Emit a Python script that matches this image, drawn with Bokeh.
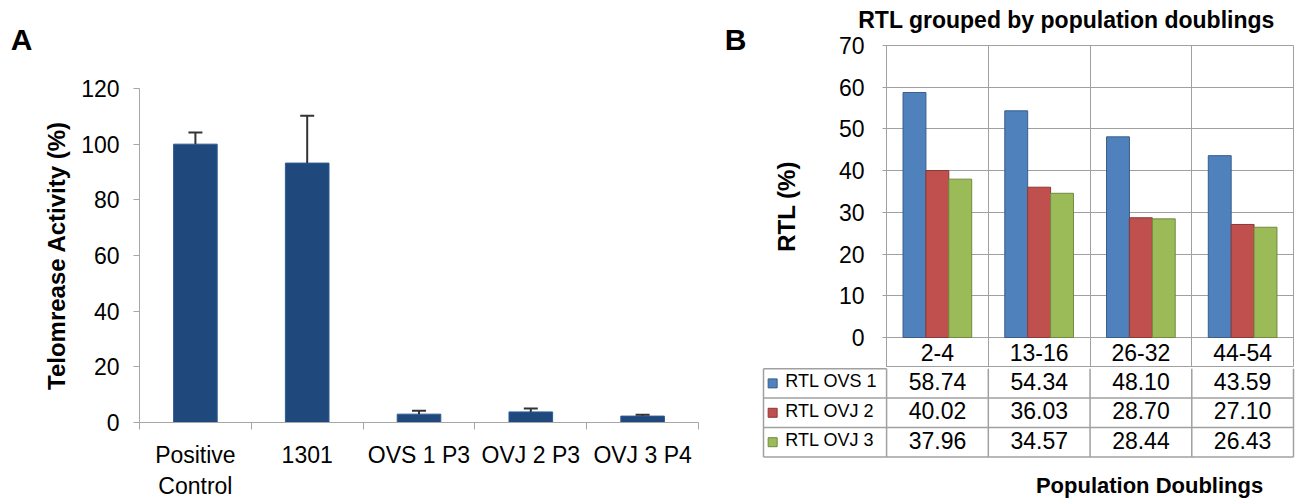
import numpy as np
from bokeh.plotting import figure
from bokeh.models import Range1d, FixedTicker, Whisker, TeeHead, ColumnDataSource
from bokeh.layouts import row, column
from bokeh.embed import file_html
from bokeh.resources import INLINE
from bokeh.core.properties import value

FONT = "Liberation Sans"

# ---------------- data: panel A ----------------
a_categories = ["Positive\nControl", "1301", "OVS 1 P3", "OVJ 2 P3", "OVJ 3 P4"]
a_values = [100.0, 93.2, 3.0, 3.8, 2.3]
a_errors = [4.2, 17.0, 1.2, 1.2, 0.5]
a_yticks = [0, 20, 40, 60, 80, 100, 120]

# ---------------- data: panel B ----------------
b_categories = ["2-4", "13-16", "26-32", "44-54"]
b_series = ["RTL OVS 1", "RTL OVJ 2", "RTL OVJ 3"]
rtl_ovs1 = [58.74, 54.34, 48.10, 43.59]
rtl_ovj2 = [40.02, 36.03, 28.70, 27.10]
rtl_ovj3 = [37.96, 34.57, 28.44, 26.43]
b_yticks = [0, 10, 20, 30, 40, 50, 60, 70]

GRID = "#a0a0a0"
AXIS = "#a6a6a6"


def blank(width, height, xr, yr):
    f = figure(width=width, height=height, x_range=Range1d(*xr), y_range=Range1d(*yr),
               output_backend="svg", toolbar_location=None,
               min_border_left=0, min_border_right=0, min_border_top=0, min_border_bottom=0)
    f.axis.visible = False
    f.grid.visible = False
    f.outline_line_color = None
    return f


def letter(txt, xpos):
    f = blank(40, 501, (0, 40), (0, 501))
    f.text(x=[xpos], y=[462], text=[txt], text_font=value(FONT), text_font_style="bold",
           text_font_size="30px", text_align="center", text_baseline="middle", text_color="black")
    return f


# ================= Panel A =================
n = len(a_categories)
xa = list(range(1, n + 1))
pa = figure(width=680, height=501, x_range=Range1d(0.5, n + 0.5), y_range=Range1d(0, 120),
            output_backend="svg", toolbar_location=None,
            min_border_left=95, min_border_right=22, min_border_top=88, min_border_bottom=73)
pa.outline_line_color = None
pa.grid.visible = False

src_a = ColumnDataSource(dict(x=xa, top=a_values,
                              upper=[v + e for v, e in zip(a_values, a_errors)]))
pa.add_layout(Whisker(base="x", lower="top", upper="upper", source=src_a,
                      line_color="#333333", line_width=2,
                      upper_head=TeeHead(size=14, line_color="#333333", line_width=2),
                      lower_head=None, level="overlay"))
pa.vbar(x="x", top="top", bottom=0, width=0.39, source=src_a,
        fill_color="#1F497D", line_color="#2d5b94", line_width=1)

ya = pa.yaxis[0]
ya.ticker = FixedTicker(ticks=a_yticks, minor_ticks=[])
ya.major_label_text_font = FONT
ya.major_label_text_font_size = "23px"
ya.major_label_text_color = "black"
ya.axis_line_color = AXIS
ya.major_tick_line_color = AXIS
ya.major_tick_out = 6
ya.major_tick_in = 0
ya.minor_tick_line_color = None
ya.major_label_standoff = 14
ya.axis_label = "Telomrease Activity (%)"
ya.axis_label_text_font = FONT
ya.axis_label_text_font_style = "bold"
ya.axis_label_text_font_size = "24px"
ya.axis_label_text_color = "black"
ya.axis_label_standoff = 8

xax = pa.xaxis[0]
xax.ticker = FixedTicker(ticks=xa, minor_ticks=[i + 0.5 for i in range(0, n + 1)])
xax.major_label_overrides = {x: c for x, c in zip(xa, a_categories)}
xax.major_label_text_font = FONT
xax.major_label_text_font_size = "23px"
xax.major_label_text_color = "black"
xax.major_tick_line_color = None
xax.major_tick_out = 0
xax.major_tick_in = 0
xax.minor_tick_out = 7
xax.minor_tick_in = 0
xax.minor_tick_line_color = AXIS
xax.axis_line_color = AXIS
xax.major_label_standoff = 12

# ================= Panel B title strip =================
ft = blank(539, 34, (0, 539), (0, 34))
ft.text(x=[306], y=[15], text=["RTL grouped by population doublings"], text_font=value(FONT),
        text_font_style="bold", text_font_size="23px", text_align="center",
        text_baseline="middle", text_color="black")

# ================= Panel B chart (with category row) =================
m = len(b_categories)
px_per_unit = 292 / 70.0
cat_row = 30 / px_per_unit
pb = figure(width=539, height=333, x_range=Range1d(0, m), y_range=Range1d(-cat_row, 70),
            output_backend="svg", toolbar_location=None,
            min_border_left=126, min_border_right=6, min_border_top=11, min_border_bottom=0)
pb.xaxis.visible = False
pb.outline_line_color = GRID
pb.xgrid.ticker = FixedTicker(ticks=list(range(0, m + 1)))
pb.ygrid.ticker = FixedTicker(ticks=b_yticks)
pb.grid.grid_line_color = GRID
pb.grid.grid_line_width = 1

series_vals = [rtl_ovs1, rtl_ovj2, rtl_ovj3]
fills = ["#4F81BD", "#C0504D", "#9BBB59"]
edges = ["#385D8A", "#8C3836", "#71893F"]
bw = 0.225
for k, vals in enumerate(series_vals):
    xs = [i + 0.5 + (k - 1) * bw for i in range(m)]
    pb.vbar(x=xs, top=vals, bottom=0, width=bw, fill_color=fills[k], line_color=edges[k], line_width=1)

pb.text(x=[i + 0.5 for i in range(m)], y=[-cat_row / 2] * m, text=b_categories,
        text_font=value(FONT), text_font_size="23px", text_align="center",
        text_baseline="middle", text_color="black")

yb = pb.yaxis[0]
yb.ticker = FixedTicker(ticks=b_yticks, minor_ticks=[])
yb.major_label_text_font = FONT
yb.major_label_text_font_size = "23px"
yb.major_label_text_color = "black"
yb.axis_line_color = GRID
yb.major_tick_line_color = GRID
yb.major_tick_out = 4
yb.major_tick_in = 0
yb.minor_tick_line_color = None
yb.major_label_standoff = 18
yb.axis_label = "RTL (%)"
yb.axis_label_text_font = FONT
yb.axis_label_text_font_style = "bold"
yb.axis_label_text_font_size = "24px"
yb.axis_label_text_color = "black"
yb.axis_label_standoff = 36

# ================= Panel B data table =================
L = 1.21           # legend column width (category units)
nr = len(b_series)
row_px = 29.67
pt = blank(539, 134, (-L - 3 / 101.75, m + 6 / 101.75), (nr - 134 / row_px, nr + 0.04))

hx0 = [-L] * nr + [-L]
hx1 = [m] * nr + [0]
hy = list(range(0, nr)) + [nr]
pt.segment(x0=hx0, y0=hy, x1=hx1, y1=hy, line_color=GRID, line_width=1.5)
vx = [-L] + list(range(0, m + 1))
pt.segment(x0=vx, y0=[0] * len(vx), x1=vx, y1=[nr] * len(vx), line_color=GRID, line_width=1.5)

for k, vals in enumerate(series_vals):
    yk = nr - k - 0.5
    pt.text(x=[i + 0.5 for i in range(m)], y=[yk] * m, text=[f"{v:.2f}" for v in vals],
            text_font=value(FONT), text_font_size="23px", text_align="center",
            text_baseline="middle", text_color="black", y_offset=-2)
    pt.scatter(x=[-L + 0.09], y=[yk], marker="square", size=9,
               fill_color=fills[k], line_color=edges[k], line_width=1)
    pt.text(x=[-L + 0.215], y=[yk], text=[b_series[k]],
            text_font=value(FONT), text_font_size="18px", text_align="left",
            text_baseline="middle", text_color="black", y_offset=-2)

pt.text(x=[2.585], y=[-0.98], text=["Population Doublings"], text_font=value(FONT),
        text_font_style="bold", text_font_size="22px", text_align="center",
        text_baseline="middle", text_color="black")

layout = row(column(letter("A", 21)), column(pa), column(letter("B", 15)),
             column(row(ft), row(pb), row(pt), spacing=0), spacing=0)
open("out.html", "w").write(file_html(layout, INLINE))
